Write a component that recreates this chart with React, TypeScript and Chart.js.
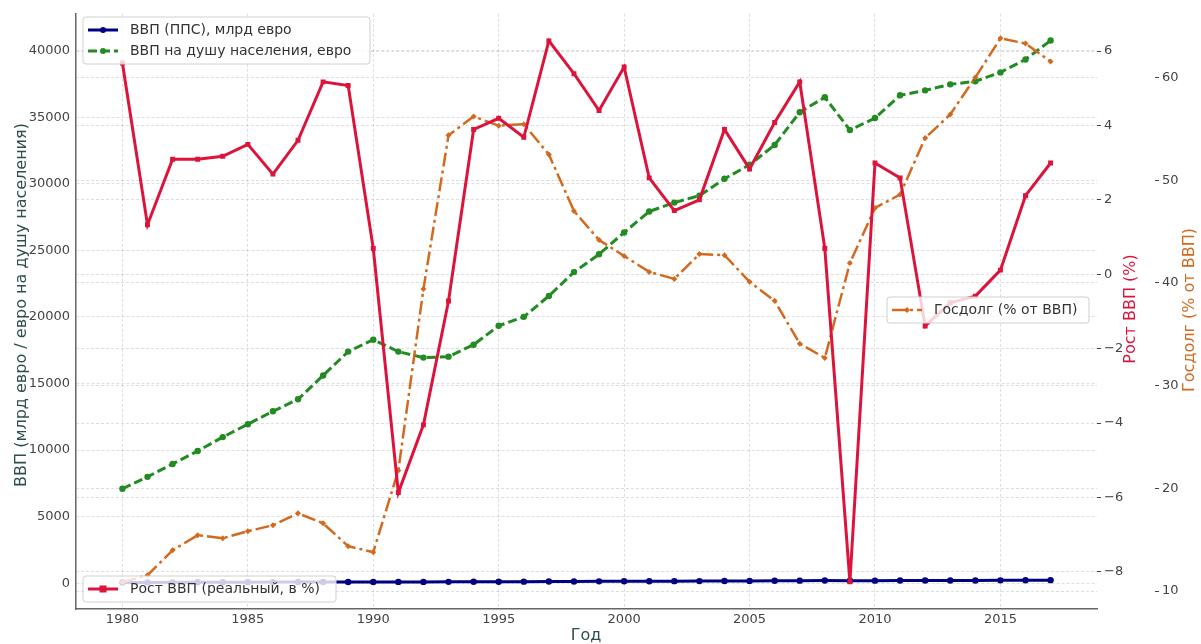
import React, { useEffect, useRef } from "react";
import { Chart, registerables } from "chart.js";

Chart.register(...registerables);

const years = [
  1980, 1981, 1982, 1983, 1984, 1985, 1986, 1987, 1988, 1989,
  1990, 1991, 1992, 1993, 1994, 1995, 1996, 1997, 1998, 1999,
  2000, 2001, 2002, 2003, 2004, 2005, 2006, 2007, 2008, 2009,
  2010, 2011, 2012, 2013, 2014, 2015, 2016, 2017,
];

const gdpPPP = [
  55, 58, 62, 66, 71, 75, 79, 83, 88, 93,
  96, 95, 96, 98, 103, 110, 114, 121, 129, 135,
  143, 149, 153, 157, 164, 170, 178, 190, 196, 183,
  188, 197, 200, 203, 205, 210, 218, 226,
];

const gdpPerCapita = [
  7090, 7985, 8955, 9925, 10970, 11940, 12910, 13810, 15600, 17390,
  18280, 17390, 16940, 17010, 17910, 19330, 20000, 21570, 23360, 24700,
  26340, 27910, 28580, 29100, 30370, 31420, 32910, 35370, 36490, 34030,
  34930, 36640, 37010, 37460, 37690, 38360, 39330, 40750,
];

const growth = [
  5.68, 1.33, 3.09, 3.09, 3.17, 3.49, 2.69, 3.6, 5.17, 5.07,
  0.69, -5.87, -4.05, -0.72, 3.89, 4.19, 3.68, 6.27, 5.39, 4.4,
  5.57, 2.59, 1.71, 2.0, 3.89, 2.83, 4.08, 5.17, 0.69, -8.27,
  2.99, 2.59, -1.39, -0.77, -0.59, 0.11, 2.11, 2.99,
];

const debt = [
  10.87, 11.55, 13.98, 15.44, 15.15, 15.83, 16.41, 17.57, 16.6, 14.37,
  13.79, 21.75, 39.4, 54.37, 56.2, 55.3, 55.44, 52.5, 47.0, 44.17,
  42.62, 41.07, 40.39, 42.8, 42.7, 40.1, 38.25, 34.08, 32.7, 41.94,
  47.3, 48.6, 54.1, 56.4, 60.0, 63.8, 63.3, 61.55,
];

const xTicks = [1980, 1985, 1990, 1995, 2000, 2005, 2010, 2015];
const leftTicks = [0, 5000, 10000, 15000, 20000, 25000, 30000, 35000, 40000];
const growthTicks = [-8, -6, -4, -2, 0, 2, 4, 6];
const debtTicks = [10, 20, 30, 40, 50, 60];

const labelPPP = "ВВП (ППС), млрд евро";
const labelPerCapita = "ВВП на душу населения, евро";
const labelGrowth = "Рост ВВП (реальный, в %)";
const labelDebt = "Госдолг (% от ВВП)";
const titleX = "Год";
const titleLeft = "ВВП (млрд евро / евро на душу населения)";
const titleGrowth = "Рост ВВП (%)";
const titleDebt = "Госдолг (% от ВВП)";

const NAVY = "#000080";
const GREEN = "#228B22";
const CRIMSON = "#DC143C";
const ORANGE = "#D2691E";
const FONT = "DejaVu Sans";
const GRID = "rgba(0,0,0,0.13)";

const toXY = (vals: number[]) => years.map((y, i) => ({ x: y, y: vals[i] }));
const minusFmt = (v: number) => (v < 0 ? "\u2212" + Math.abs(v) : String(v));

function drawMarker(ctx: CanvasRenderingContext2D, style: string, x: number, y: number, r: number, color: string) {
  ctx.save();
  ctx.fillStyle = color;
  ctx.beginPath();
  if (style === "circle") {
    ctx.arc(x, y, r, 0, Math.PI * 2);
  } else if (style === "rect") {
    ctx.rect(x - r, y - r, 2 * r, 2 * r);
  } else {
    ctx.moveTo(x, y - r);
    ctx.lineTo(x + r, y);
    ctx.lineTo(x, y + r);
    ctx.lineTo(x - r, y);
    ctx.closePath();
  }
  ctx.fill();
  ctx.restore();
}

function drawLegendBox(
  ctx: CanvasRenderingContext2D,
  x: number, y: number, w: number, h: number,
  items: { label: string; color: string; dash: number[]; width: number; marker: string; r: number }[],
  rowH: number
) {
  ctx.save();
  const rad = 3;
  ctx.beginPath();
  ctx.moveTo(x + rad, y);
  ctx.lineTo(x + w - rad, y);
  ctx.quadraticCurveTo(x + w, y, x + w, y + rad);
  ctx.lineTo(x + w, y + h - rad);
  ctx.quadraticCurveTo(x + w, y + h, x + w - rad, y + h);
  ctx.lineTo(x + rad, y + h);
  ctx.quadraticCurveTo(x, y + h, x, y + h - rad);
  ctx.lineTo(x, y + rad);
  ctx.quadraticCurveTo(x, y, x + rad, y);
  ctx.closePath();
  ctx.fillStyle = "rgba(255,255,255,0.8)";
  ctx.fill();
  ctx.strokeStyle = "#d0d0d0";
  ctx.lineWidth = 1;
  ctx.stroke();
  items.forEach((it, i) => {
    const cy = y + 13 + i * rowH;
    ctx.save();
    ctx.strokeStyle = it.color;
    ctx.lineWidth = it.width;
    ctx.setLineDash(it.dash);
    ctx.beginPath();
    ctx.moveTo(x + 5, cy);
    ctx.lineTo(x + 35, cy);
    ctx.stroke();
    ctx.restore();
    drawMarker(ctx, it.marker, x + 20, cy, it.r, it.color);
    ctx.fillStyle = "#333";
    ctx.font = `14px "${FONT}"`;
    ctx.textBaseline = "middle";
    ctx.textAlign = "left";
    ctx.fillText(it.label, x + 47, cy + 0.5);
  });
  ctx.restore();
}

const overlayPlugin = {
  id: "overlay",
  afterDraw(chart: any) {
    const ctx: CanvasRenderingContext2D = chart.ctx;
    ctx.save();
    ctx.font = `16px "${FONT}"`;
    ctx.textAlign = "center";
    ctx.textBaseline = "middle";
    // x title
    ctx.fillStyle = "#2F4F4F";
    ctx.fillText(titleX, 586, 636);
    // left title
    const rot = (text: string, x: number, y: number, color: string) => {
      ctx.save();
      ctx.translate(x, y);
      ctx.rotate(-Math.PI / 2);
      ctx.fillStyle = color;
      ctx.fillText(text, 0, 0);
      ctx.restore();
    };
    rot(titleLeft, 22, 305, "#2F4F4F");
    rot(titleGrowth, 1131, 309, CRIMSON);
    rot(titleDebt, 1190, 310, ORANGE);
    ctx.restore();

    drawLegendBox(ctx, 83, 17, 287, 47, [
      { label: labelPPP, color: NAVY, dash: [], width: 3, marker: "circle", r: 3 },
      { label: labelPerCapita, color: GREEN, dash: [9, 4], width: 3, marker: "circle", r: 3 },
    ], 21);
    drawLegendBox(ctx, 887, 297, 202, 26, [
      { label: labelDebt, color: ORANGE, dash: [14, 4, 3, 4], width: 2.5, marker: "diamond", r: 3 },
    ], 21);
    drawLegendBox(ctx, 83, 576, 253, 26, [
      { label: labelGrowth, color: CRIMSON, dash: [], width: 3, marker: "rect", r: 3.5 },
    ], 21);
  },
};

const tickFont = { family: FONT, size: 13 };

export default function App() {
  const ref = useRef<HTMLCanvasElement | null>(null);
  useEffect(() => {
    if (!ref.current) return;
    const chart = new Chart(ref.current, {
      type: "line",
      data: {
        datasets: [
          {
            label: labelGrowth,
            data: toXY(growth),
            yAxisID: "yR",
            borderColor: CRIMSON,
            backgroundColor: CRIMSON,
            borderWidth: 3,
            pointStyle: "rect",
            pointRadius: 3.5,
            pointBorderWidth: 0,
            order: 0,
          },
          {
            label: labelDebt,
            data: toXY(debt),
            yAxisID: "yO",
            borderColor: ORANGE,
            backgroundColor: ORANGE,
            borderWidth: 2.5,
            borderDash: [14, 4, 3, 4],
            pointStyle: "rectRot",
            pointRadius: 3,
            pointBorderWidth: 0,
            order: 1,
          },
          {
            label: labelPerCapita,
            data: toXY(gdpPerCapita),
            yAxisID: "y",
            borderColor: GREEN,
            backgroundColor: GREEN,
            borderWidth: 3,
            borderDash: [9, 4],
            pointStyle: "circle",
            pointRadius: 3.2,
            pointBorderWidth: 0,
            order: 2,
          },
          {
            label: labelPPP,
            data: toXY(gdpPPP),
            yAxisID: "y",
            borderColor: NAVY,
            backgroundColor: NAVY,
            borderWidth: 3,
            pointStyle: "circle",
            pointRadius: 3.2,
            pointBorderWidth: 0,
            order: 3,
          },
        ],
      },
      options: {
        responsive: false,
        animation: false,
        devicePixelRatio: 1,
        layout: { padding: { top: 10, left: 0, right: 0, bottom: 0 } },
        plugins: { legend: { display: false }, tooltip: { enabled: false } },
        elements: { line: { tension: 0 } },
        scales: {
          x: {
            type: "linear",
            position: "bottom",
            min: 1978.15,
            max: 2018.85,
            afterBuildTicks: (axis: any) => {
              axis.ticks = xTicks.map((v) => ({ value: v }));
            },
            afterFit: (s: any) => {
              s.height = 35;
            },
            ticks: { font: tickFont, color: "#444", padding: 3, maxRotation: 0, callback: (v: any) => String(v) },
            grid: { color: GRID, lineWidth: 1, drawTicks: false },
            border: { display: true, color: "#666", width: 1.5, dash: [3, 2] },
          },
          y: {
            type: "linear",
            position: "left",
            min: -1940,
            max: 42760,
            afterBuildTicks: (axis: any) => {
              axis.ticks = leftTicks.map((v) => ({ value: v }));
            },
            afterFit: (s: any) => {
              s.width = 76;
            },
            ticks: { font: tickFont, color: "#444", padding: 6, callback: (v: any) => String(v) },
            grid: { color: GRID, lineWidth: 1, drawTicks: false },
            border: { display: true, color: "#666", width: 1.5, dash: [3, 2] },
          },
          yR: {
            type: "linear",
            position: "right",
            min: -9,
            max: 7,
            afterBuildTicks: (axis: any) => {
              axis.ticks = growthTicks.map((v) => ({ value: v }));
            },
            afterFit: (s: any) => {
              s.width = 58;
            },
            ticks: { font: tickFont, color: "#444", padding: 3, callback: (v: any) => minusFmt(v) },
            grid: { color: GRID, lineWidth: 1, drawTicks: true, tickLength: 4, tickColor: "#444", tickWidth: 1 },
            border: { display: false, dash: [3, 2] },
          },
          yO: {
            type: "linear",
            position: "right",
            min: 8.26,
            max: 66.19,
            afterBuildTicks: (axis: any) => {
              axis.ticks = debtTicks.map((v) => ({ value: v }));
            },
            afterFit: (s: any) => {
              s.width = 46;
            },
            ticks: { font: tickFont, color: "#444", padding: 3, callback: (v: any) => String(v) },
            grid: { color: GRID, lineWidth: 1, drawTicks: true, tickLength: 4, tickColor: "#444", tickWidth: 1 },
            border: { display: false, dash: [3, 2] },
          },
        },
      },
      plugins: [overlayPlugin],
    } as any);
    return () => chart.destroy();
  }, []);
  return (
    <div style={{ position: "absolute", left: 0, top: 0, width: 1201, height: 644, background: "#fff" }}>
      <canvas ref={ref} width={1201} height={644} style={{ display: "block", width: 1201, height: 644 }} />
    </div>
  );
}
